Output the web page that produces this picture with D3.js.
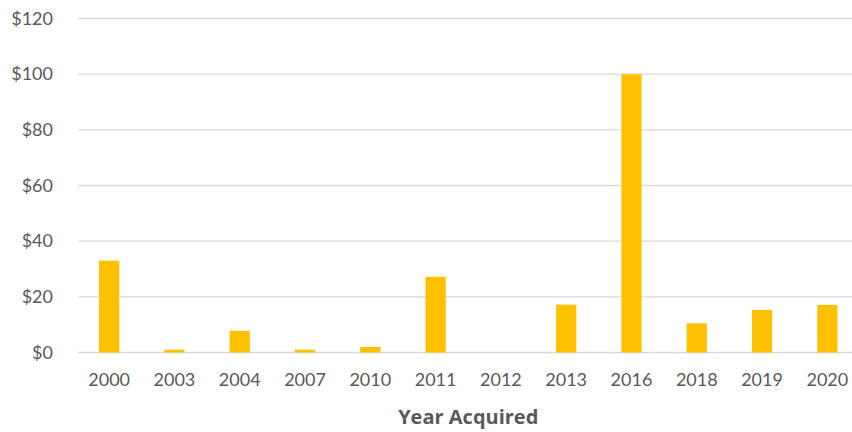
<!DOCTYPE html>
<html>
<head>
<meta charset="utf-8">
<script src="https://cdn.jsdelivr.net/npm/d3@7"></script>
<style>
  html, body { margin: 0; padding: 0; background: white; overflow: hidden; }
</style>
</head>
<body>
<script>
const years = ["2000", "2003", "2004", "2007", "2010", "2011", "2012", "2013", "2016", "2018", "2019", "2020"];
const values = [33, 1, 7.8, 1, 2, 27.2, 0, 17.2, 100, 10.5, 15.3, 17.1];
const yTicks = [0, 20, 40, 60, 80, 100, 120];
const xTitle = "Year Acquired";

const width = 852, height = 432;
const plotLeft = 76.5, plotRight = 860, plotTop = 18.5, plotBottom = 352.5;

const svg = d3.select("body")
    .append("svg")
    .attr("width", width)
    .attr("height", height)
    .style("font-family", "Lato, 'Open Sans', sans-serif");

const x = d3.scaleBand()
    .domain(years)
    .range([plotLeft, plotRight])
    .paddingInner(0.69)
    .paddingOuter(0.345);

const y = d3.scaleLinear()
    .domain([0, 120])
    .range([plotBottom, plotTop]);

// gridlines
svg.append("g")
    .selectAll("line")
    .data(yTicks)
    .join("line")
    .attr("x1", plotLeft + 1.5)
    .attr("x2", width)
    .attr("y1", d => y(d))
    .attr("y2", d => y(d))
    .attr("stroke", "#d9d9d9")
    .attr("stroke-width", 1.3);

// y labels
svg.append("g")
    .selectAll("text")
    .data(yTicks)
    .join("text")
    .attr("x", 53)
    .attr("y", d => y(d) + 6)
    .attr("text-anchor", "end")
    .attr("font-size", "18px")
    .attr("fill", "#595959")
    .text(d => "$" + d);

// bars
svg.append("g")
    .selectAll("rect")
    .data(values)
    .join("rect")
    .attr("x", (d, i) => x(years[i]))
    .attr("width", x.bandwidth())
    .attr("y", d => y(d))
    .attr("height", d => y(0) - y(d))
    .attr("fill", "#ffc000");

// x labels
svg.append("g")
    .selectAll("text")
    .data(years)
    .join("text")
    .attr("x", d => x(d) + x.bandwidth() / 2)
    .attr("y", 386)
    .attr("text-anchor", "middle")
    .attr("font-size", "18px")
    .attr("fill", "#595959")
    .text(d => d);

svg.append("text")
    .attr("x", (plotLeft + plotRight) / 2)
    .attr("y", 424)
    .attr("text-anchor", "middle")
    .attr("font-family", "'Open Sans', sans-serif")
    .attr("font-size", "20px")
    .attr("font-weight", "bold")
    .attr("fill", "#595959")
    .text(xTitle);
</script>
</body>
</html>
